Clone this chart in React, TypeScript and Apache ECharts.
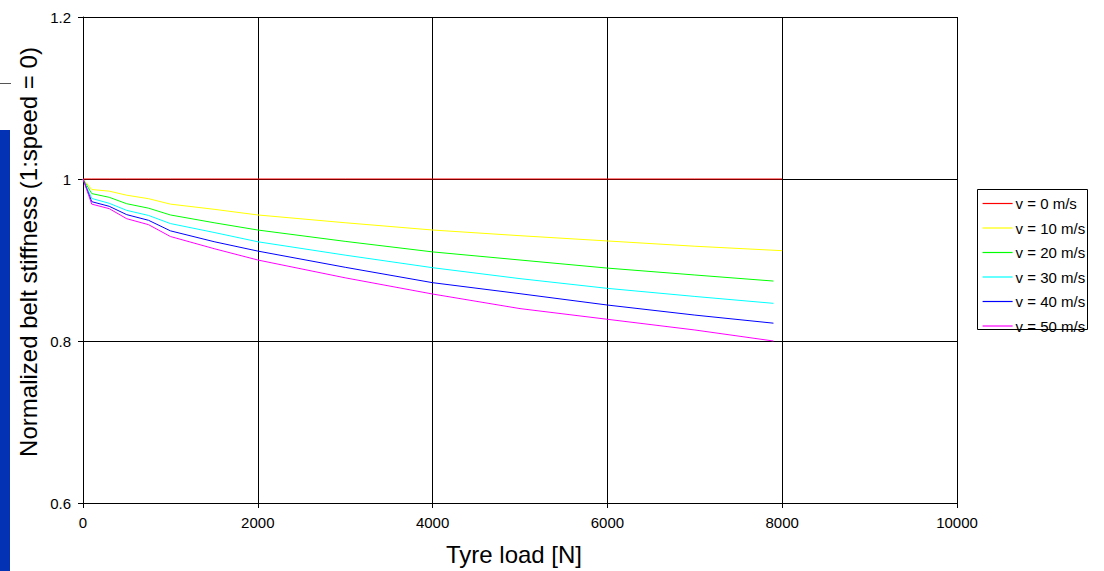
import React, { useEffect, useRef } from "react";
import * as echarts from "echarts";

const loads = [0, 100, 300, 500, 750, 1000, 1500, 2000, 3000, 4000, 5000, 6000, 7000, 7900];
const loadsLong = [0, 100, 300, 500, 750, 1000, 1500, 2000, 3000, 4000, 5000, 6000, 7000, 8000];

const seriesNames = ["v = 0 m/s", "v = 10 m/s", "v = 20 m/s", "v = 30 m/s", "v = 40 m/s", "v = 50 m/s"];
const seriesColors = ["#ff0000", "#ffff00", "#00ff00", "#00ffff", "#0000ff", "#ff00ff"];

const v0 = [1, 1, 1, 1, 1, 1, 1, 1, 1, 1, 1, 1, 1, 1];
const v10 = [1, 0.987, 0.985, 0.98, 0.9757, 0.969, 0.9626, 0.9556, 0.946, 0.937, 0.93, 0.9235, 0.917, 0.9115];
const v20 = [1, 0.982, 0.9774, 0.9695, 0.964, 0.9556, 0.946, 0.937, 0.923, 0.91, 0.9, 0.89, 0.8815, 0.874];
const v30 = [1, 0.976, 0.97, 0.9613, 0.955, 0.945, 0.934, 0.9225, 0.906, 0.8905, 0.877, 0.865, 0.855, 0.8465];
const v40 = [1, 0.972, 0.9663, 0.956, 0.949, 0.936, 0.9226, 0.911, 0.891, 0.872, 0.8584, 0.8444, 0.832, 0.822];
const v50 = [1, 0.969, 0.9634, 0.951, 0.9436, 0.929, 0.914, 0.9, 0.878, 0.858, 0.84, 0.8268, 0.8136, 0.8];

const seriesValues = [v0, v10, v20, v30, v40, v50];
const seriesLoads = [loadsLong, loadsLong, loads, loads, loads, loads];

const xTicks = { min: 0, max: 10000, interval: 2000 };
const yTicks = { min: 0.6, max: 1.2, interval: 0.2 };

const FONT = "'Liberation Sans', Arial, sans-serif";

export default function App() {
  const ref = useRef<HTMLDivElement>(null);
  useEffect(() => {
    if (!ref.current) return;
    const chart = echarts.init(ref.current, undefined, { renderer: "svg" });
    const series = seriesNames.map((name, i) => ({
      name,
      type: "line",
      symbol: "none",
      showSymbol: false,
      z: i === 0 ? 3 : 2,
      lineStyle: { color: seriesColors[i], width: 1 },
      itemStyle: { color: seriesColors[i] },
      data: seriesValues[i].map((v, j) => [seriesLoads[i][j], v]),
    }));
    chart.setOption({
      animation: false,
      backgroundColor: "#ffffff",
      textStyle: { fontFamily: FONT },
      grid: { left: 83, right: 147, top: 17, bottom: 68, containLabel: false, outerBoundsMode: "none" },
      xAxis: {
        type: "value",
        min: xTicks.min,
        max: xTicks.max,
        interval: xTicks.interval,
        axisLine: { show: true, lineStyle: { color: "#000", width: 1 } },
        axisTick: { show: true, length: 5, lineStyle: { color: "#000" } },
        axisLabel: {
          color: "#000",
          fontSize: 15,
          fontFamily: FONT,
          margin: 12,
          formatter: (v: number) => String(Math.round(v)),
        },
        splitLine: { show: true, lineStyle: { color: "#000", width: 1 } },
      },
      yAxis: {
        type: "value",
        min: yTicks.min,
        max: yTicks.max,
        interval: yTicks.interval,
        axisLine: { show: true, lineStyle: { color: "#000", width: 1 } },
        axisTick: { show: true, length: 5, lineStyle: { color: "#000" } },
        axisLabel: {
          color: "#000",
          fontSize: 15,
          fontFamily: FONT,
          margin: 12,
          formatter: (v: number) => String(Math.round(v * 10) / 10),
        },
        splitLine: { show: true, lineStyle: { color: "#000", width: 1 } },
      },
      legend: {
        orient: "vertical",
        left: 982,
        top: 196,
        padding: 0,
        itemWidth: 30,
        itemHeight: 14,
        itemGap: 9.5,
        selectedMode: false,
        itemStyle: { opacity: 0 },
        textStyle: { color: "#000", fontSize: 15, fontFamily: FONT, padding: [0, 0, 0, -2] },
        data: seriesNames.map((n, i) => ({
          name: n,
          lineStyle: { color: seriesColors[i], width: 1.2 },
        })),
      },
      graphic: [
        {
          type: "rect",
          z: -1,
          shape: { x: 977.5, y: 189.5, width: 110, height: 140 },
          style: { fill: "#fff", stroke: "#000", lineWidth: 1 },
        },
        {
          type: "rect",
          shape: { x: 0, y: 130, width: 10, height: 441 },
          style: { fill: "#0432b4" },
        },
        {
          type: "line",
          shape: { x1: 0, y1: 83.5, x2: 11, y2: 83.5 },
          style: { stroke: "#555", lineWidth: 1 },
        },
        {
          type: "text",
          x: 28,
          y: 252,
          rotation: Math.PI / 2,
          style: {
            text: "Normalized belt stiffness (1:speed = 0)",
            fontSize: 24,
            fontFamily: FONT,
            fill: "#000",
            align: "center",
            verticalAlign: "middle",
          },
        },
        {
          type: "text",
          x: 514,
          y: 554,
          style: {
            text: "Tyre load [N]",
            fontSize: 24,
            fontFamily: FONT,
            fill: "#000",
            align: "center",
            verticalAlign: "middle",
          },
        },
      ],
      series,
    });
    return () => chart.dispose();
  }, []);
  return (
    <div
      ref={ref}
      style={{ position: "absolute", left: 0, top: 0, width: 1104, height: 571, background: "#fff" }}
    />
  );
}
